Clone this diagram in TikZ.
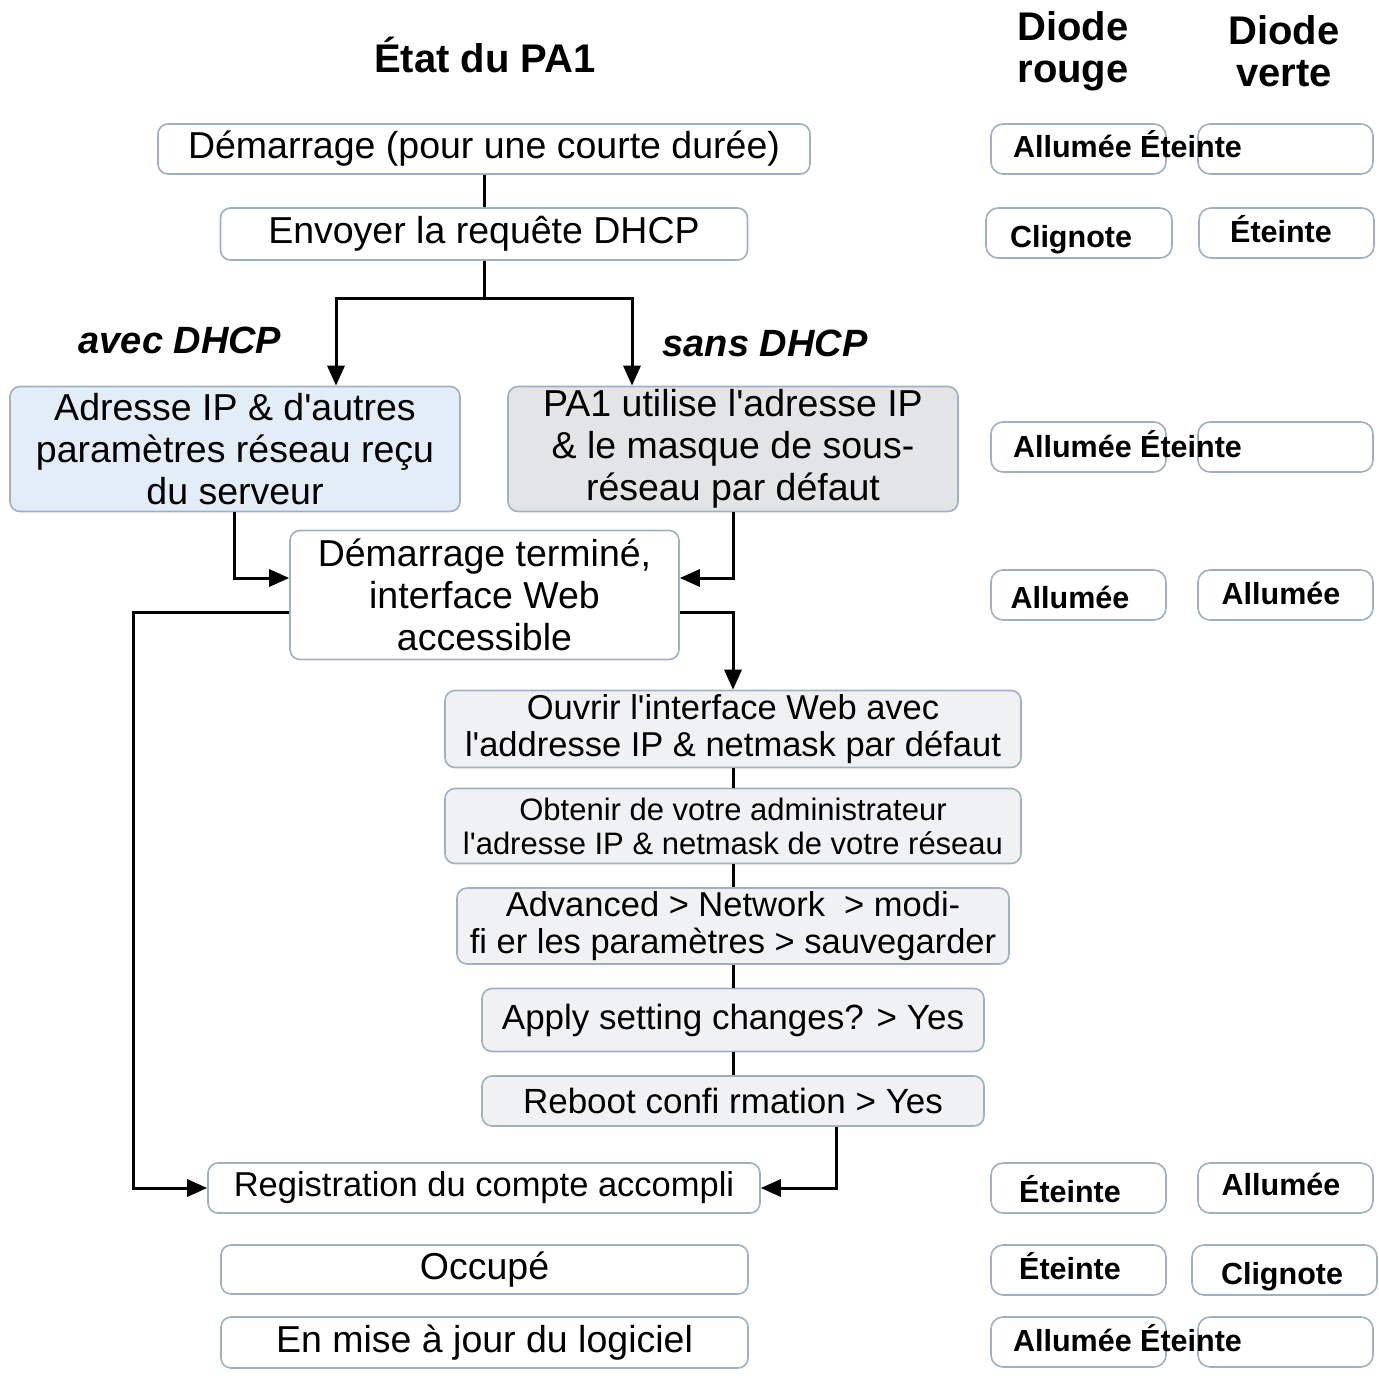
\documentclass[tikz,border=0pt]{standalone}
\usepackage{fontspec}
\setmainfont{Liberation Sans}
\usetikzlibrary{arrows.meta}
\definecolor{boxc}{HTML}{9FB0C0}
\definecolor{bluef}{HTML}{E3EDF8}
\definecolor{grayf}{HTML}{E3E4E5}
\definecolor{lightf}{HTML}{F0F1F3}
\newcommand{\sq}{\textquotesingle}
\begin{document}
\begin{tikzpicture}[x=1pt,y=-1pt,
  box/.style={draw=boxc, line width=1.6pt, rounded corners=10pt, inner sep=0pt, align=center, fill=white,
    font=\fontsize{37.5}{42}\selectfont},
  dbox/.style={draw=boxc, line width=1.6pt, rounded corners=12pt, inner sep=0pt, minimum width=175pt, minimum height=50pt,
    font=\bfseries\fontsize{30.5}{34}\selectfont, text height=22pt, text depth=1pt},
  dtext/.style={inner sep=0pt, font=\bfseries\fontsize{30.5}{34}\selectfont, text height=22pt, text depth=1pt},
  head/.style={inner sep=0pt, align=center, font=\bfseries\fontsize{40}{42}\selectfont},
  lab/.style={inner sep=0pt, font=\bfseries\itshape\fontsize{38}{42}\selectfont},
  line/.style={draw=black, line width=3pt},
  arr/.style={line, -{Triangle[length=20pt,width=17pt]}}
]
\useasboundingbox (0,0) rectangle (1379,1382);

% headings
\node[head] (title) at (485,55) {État du PA1};
\node[head] (hrouge) at (1073,51) {Diode\\rouge};
\node[head] (hverte) at (1284,51) {Diode\\verte};

% main flow
\node[box, minimum width=652pt, minimum height=50pt] (b1) at (484,149) {Démarrage (pour une courte durée)};
\node[box, minimum width=527pt, minimum height=52pt] (b2) at (484,234) {Envoyer la requête DHCP};
\node[box, fill=bluef, minimum width=450pt, minimum height=125pt] (b3) at (235,449) {Adresse IP \& d\sq autres\\paramètres réseau reçu\\du serveur};
\node[box, fill=grayf, minimum width=450pt, minimum height=125pt] (b4) at (733,449) {PA1 utilise l\sq adresse IP\\\& le masque de sous-\\réseau par défaut};
\node[box, minimum width=389pt, minimum height=129pt] (b5) at (484.5,595) {Démarrage terminé,\\interface Web\\accessible};
\node[box, fill=lightf, minimum width=576pt, minimum height=77pt, font=\fontsize{34.5}{37}\selectfont] (b6) at (733,729) {Ouvrir l\sq interface Web avec\\l\sq addresse IP \& netmask par défaut};
\node[box, fill=lightf, minimum width=576pt, minimum height=75pt, font=\fontsize{31}{34}\selectfont] (b7) at (733,826) {Obtenir de votre administrateur\\l\sq adresse IP \& netmask de votre réseau};
\node[box, fill=lightf, minimum width=552pt, minimum height=76pt, font=\fontsize{34.5}{37}\selectfont] (b8) at (733,926) {Advanced > Network\ \ > modi-\\fi er les paramètres > sauvegarder};
\node[box, fill=lightf, minimum width=502pt, minimum height=63pt, font=\fontsize{35}{38}\selectfont] (b9) at (733,1020) {Apply setting changes? > Yes};
\node[box, fill=lightf, minimum width=502pt, minimum height=50pt, font=\fontsize{35}{38}\selectfont] (b10) at (733,1101) {Reboot confi rmation > Yes};
\node[box, minimum width=552pt, minimum height=50pt, font=\fontsize{34.5}{38}\selectfont] (b11) at (484,1188) {Registration du compte accompli};
\node[box, minimum width=527pt, minimum height=49pt] (b12) at (484.5,1269.5) {Occupé};
\node[box, minimum width=527pt, minimum height=51pt] (b13) at (484.5,1342.5) {En mise à jour du logiciel};

% labels
\node[lab] (avec) at (180,340) {avec DHCP};
\node[lab] (sans) at (765,343) {sans DHCP};

% connectors
\coordinate (split) at (484,298);
\coordinate (lc) at (133,1188);
\draw[line] (b1) -- (b2);
\draw[line] (b2) -- (split);
\draw[arr] (split) -| ([xshift=101pt]b3.north);
\draw[arr] (split) -| ([xshift=-101pt]b4.north);
\draw[arr] ([xshift=-1pt]b3.south) |- ([yshift=17pt]b5.west);
\draw[arr] (b4.south) |- ([yshift=17pt]b5.east);
\draw[arr] ([yshift=-17pt]b5.east) -| (b6.north);
\draw[arr] ([yshift=-17pt]b5.west) -| (lc) -- (b11.west);
\draw[line] (b6) -- (b7);
\draw[line] (b7) -- (b8);
\draw[line] (b8) -- (b9);
\draw[line] (b9) -- (b10);
\draw[arr] ([xshift=103pt]b10.south) |- (b11.east);

% diode boxes
\node[dbox] (r1) at (1078.5,149) {};
\node[dbox] (v1) at (1285.5,149) {};
\node[dtext] (t1) at (1127.5,147) {Allumée Éteinte};

\node[dbox, minimum width=186pt] (r2) at (1079,233) {};
\node[dtext] (t2r) at (1071,237) {Clignote};
\node[dbox] (v2) at (1286.5,233) {};
\node[dtext] (t2v) at (1281,232) {Éteinte};

\node[dbox] (r3) at (1078.5,447) {};
\node[dbox] (v3) at (1285.5,447) {};
\node[dtext] (t3) at (1127.5,447) {Allumée Éteinte};

\node[dbox] (r4) at (1078.5,595) {};
\node[dtext] (t4r) at (1070,598) {Allumée};
\node[dbox] (v4) at (1285.5,595) {};
\node[dtext] (t4v) at (1281,594) {Allumée};

\node[dbox] (r5) at (1078.5,1188) {};
\node[dtext] (t5r) at (1070,1192) {Éteinte};
\node[dbox] (v5) at (1285.5,1188) {};
\node[dtext] (t5v) at (1281,1185) {Allumée};

\node[dbox] (r6) at (1078.5,1270) {};
\node[dtext] (t6r) at (1070,1269) {Éteinte};
\node[dbox, minimum width=185pt] (v6) at (1284.5,1270) {};
\node[dtext] (t6v) at (1282,1274) {Clignote};

\node[dbox] (r7) at (1078.5,1342) {};
\node[dbox] (v7) at (1285.5,1342) {};
\node[dtext] (t7) at (1127.5,1341) {Allumée Éteinte};
\end{tikzpicture}
\end{document}
